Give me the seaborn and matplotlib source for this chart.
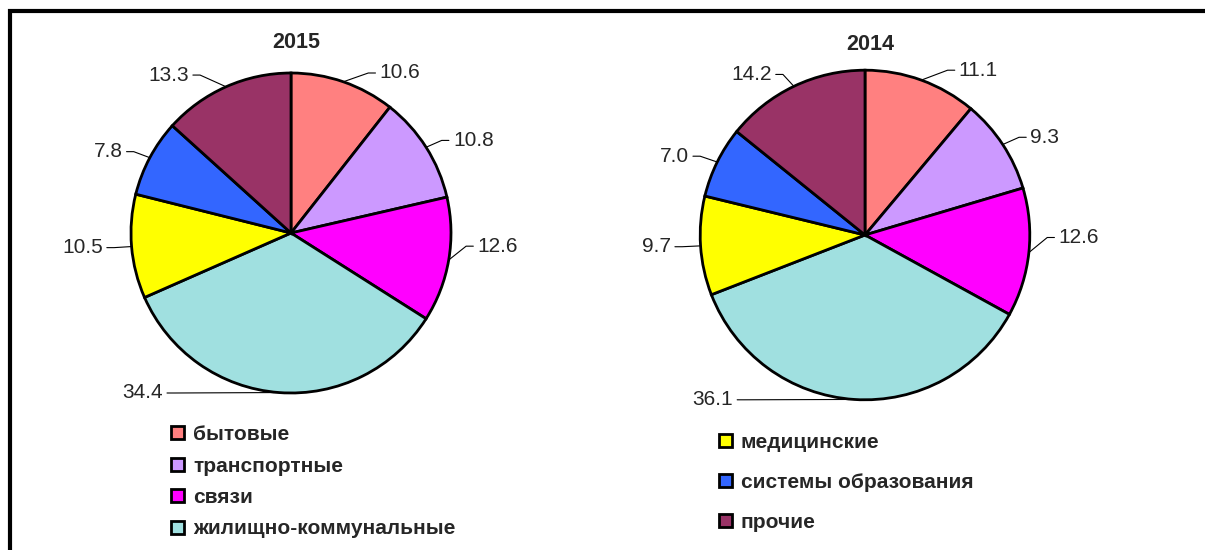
import numpy as np
import seaborn as sns
import matplotlib.pyplot as plt
from matplotlib.patches import Rectangle

# данные
categorias = ["бытовые", "транспортные", "связи", "жилищно-коммунальные",
              "медицинские", "системы образования", "прочие"]
valores_2015 = [10.6, 10.8, 12.6, 34.4, 10.5, 7.8, 13.3]
valores_2014 = [11.1, 9.3, 12.6, 36.1, 9.7, 7.0, 14.2]
anos = ["2015", "2014"]
cores = ["#FF8080", "#CC99FF", "#FF00FF", "#A0E0E0", "#FFFF00", "#3366FF", "#993366"]

sns.set_theme(style="white")
plt.rcParams["font.family"] = ["Liberation Sans", "DejaVu Sans"]

W, H = 1205, 550
fig = plt.figure(figsize=(W / 100, H / 100), dpi=100)
fig.patch.set_facecolor("white")

# рамка (видны только верх и левый край)
fig.add_artist(Rectangle((10 / W, -0.2), 1.5, 1.2 - 11 / H, transform=fig.transFigure,
                         fill=False, lw=3, edgecolor="black"))


def pie_ax(cx, cy, escala):
    half = 200
    ax = fig.add_axes([(cx - half) / W, (H - cy - half) / H, 2 * half / W, 2 * half / H])
    lim = half / escala
    ax.set_xlim(-lim, lim)
    ax.set_ylim(-lim, lim)
    ax.set_aspect("equal")
    ax.axis("off")
    return ax


def desenhar(ax, valores, ano, raio):
    wedges, _ = ax.pie(valores, colors=cores, startangle=90, counterclock=False, radius=raio,
                       wedgeprops=dict(edgecolor="black", linewidth=2))
    ax.text(0.03, 1.19, ano, ha="center", va="center", fontsize=15.5, fontweight="bold")
    total = sum(valores)
    acum = 0
    for v in valores:
        meio = np.deg2rad(90 - (acum + v / 2) / total * 360)
        acum += v
        c, s = np.cos(meio), np.sin(meio)
        ex, ey = raio * c, raio * s
        sinal = 1 if c >= 0 else -1
        if s < -0.9:
            # большой нижний сектор: подпись сдвинута влево
            sinal = -1
            nx, ny = -0.8, -1.0
        else:
            nx = sinal * (abs(c) * 1.08 + 0.1)
            ny = float(np.clip(1.08 * s, -1.0, 1.0))
            if abs(1.08 * s) > 0.98:
                nx += sinal * 0.1
            if sinal > 0 and s < 0:
                ny += 0.1
        nx, ny = nx * raio, ny * raio
        ax.plot([ex, nx - sinal * 0.07, nx - sinal * 0.025], [ey, ny, ny],
                color="black", lw=0.8, clip_on=False)
        ax.text(nx, ny, f"{v:.1f}", ha="left" if sinal > 0 else "right", va="center",
                fontsize=15, clip_on=False)
    return wedges


ax1 = pie_ax(291, 233, 160)
w1 = desenhar(ax1, valores_2015, anos[0], 1.0)
ax2 = pie_ax(865, 235, 160)
w2 = desenhar(ax2, valores_2014, anos[1], 1.03)

leg_kw = dict(frameon=False, handlelength=0.6, handleheight=0.6, handletextpad=0.45,
              prop=dict(weight="bold", size=15), borderaxespad=0, borderpad=0)
fig.legend(w1[:4], categorias[:4], loc="upper left", bbox_to_anchor=(171 / W, 1 - 425 / H),
           labelspacing=0.6, **leg_kw)
fig.legend(w2[4:], categorias[4:], loc="upper left", bbox_to_anchor=(719 / W, 1 - 433 / H),
           labelspacing=1.0, **leg_kw)

fig.savefig("out.png", dpi=100, facecolor="white")
